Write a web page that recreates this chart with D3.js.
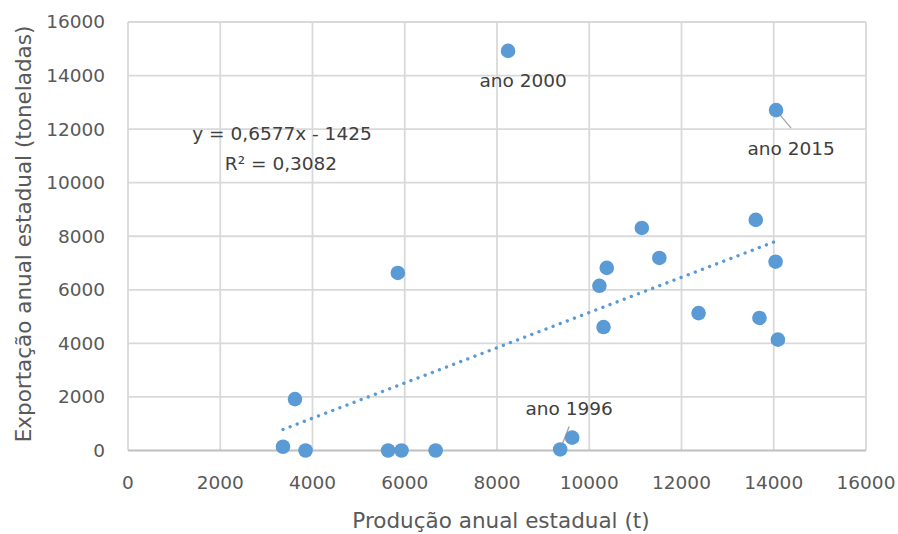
<!DOCTYPE html>
<html lang="pt">
<head>
  <meta charset="UTF-8">
  <title>Produção x Exportação</title>
  <style>
    body {
      margin: 0;
      background: #fff;
      font-family: "DejaVu Sans", sans-serif;
    }
    svg {
      display: block;
    }
    .grid line {
      stroke: #d9d9d9;
      stroke-width: 1.8;
    }
    .tick-label {
      fill: #595959;
      font-size: 18.5px;
    }
    .axis-title {
      fill: #595959;
      font-size: 21.5px;
    }
    .pt {
      fill: #5b9bd5;
    }
    .trend {
      stroke: #5b9bd5;
      stroke-width: 3.4;
      stroke-linecap: round;
      stroke-dasharray: 0.01, 7.6;
      fill: none;
    }
    .leader {
      stroke: #a6a6a6;
      stroke-width: 1.4;
    }
    .lbl {
      fill: #404040;
      font-size: 18.5px;
    }
  </style>
  <script src="https://d3js.org/d3.v7.min.js"></script>
</head>
<body>
  <div id="chart"></div>
  <script>
/* global d3 */

// produção anual estadual (t)
var producao = [3360, 3620, 3850, 5640, 5930, 6670, 5850, 8240, 9370, 9630,
  10220, 10380, 10310, 11140, 11520, 12370, 13610, 14040, 13690, 14090, 14050];
// exportação anual estadual (toneladas)
var exportacao = [140, 1920, 0, 0, 0, 0, 6630, 14920, 40, 480,
  6150, 6820, 4610, 8310, 7190, 5130, 8610, 7050, 4950, 4140, 12710];

// rótulos de alguns pontos (índice do ponto, texto)
var rotulos = [
  {i: 7, text: "ano 2000"},
  {i: 20, text: "ano 2015"},
  {i: 8, text: "ano 1996"}
];

var xTicks = [0, 2000, 4000, 6000, 8000, 10000, 12000, 14000, 16000];
var yTicks = [0, 2000, 4000, 6000, 8000, 10000, 12000, 14000, 16000];

var slope = 0.6577, intercept = -1425;
var eqText = "y = 0,6577x - 1425";
var r2Text = "R² = 0,3082";

var W = 898, H = 534;
var margin = {top: 22, right: 32, bottom: 83.5, left: 128};

var svg = d3.select("#chart").append("svg")
  .attr("width", W)
  .attr("height", H);

var x = d3.scaleLinear().domain([0, 16000]).range([margin.left, W - margin.right]);
var y = d3.scaleLinear().domain([0, 16000]).range([H - margin.bottom, margin.top]);

// grid
var grid = svg.append("g").attr("class", "grid");
grid.selectAll(".gy").data(yTicks.slice(1)).enter()
  .append("line")
  .attr("x1", x(0)).attr("x2", x(16000))
  .attr("y1", function (d) { return y(d); })
  .attr("y2", function (d) { return y(d); });
grid.selectAll(".gx").data(xTicks).enter()
  .append("line")
  .attr("x1", function (d) { return x(d); })
  .attr("x2", function (d) { return x(d); })
  .attr("y1", y(0)).attr("y2", y(16000));

// eixo x (linha base)
svg.append("line")
  .attr("x1", x(0)).attr("x2", x(16000))
  .attr("y1", y(0)).attr("y2", y(0))
  .style("stroke", "#bfbfbf")
  .style("stroke-width", 1.8);

// tick labels
svg.selectAll(".xl").data(xTicks).enter()
  .append("text")
  .attr("class", "tick-label")
  .attr("x", function (d) { return x(d); })
  .attr("y", y(0) + 38)
  .attr("text-anchor", "middle")
  .text(function (d) { return d; });

svg.selectAll(".yl").data(yTicks).enter()
  .append("text")
  .attr("class", "tick-label")
  .attr("x", x(0) - 23)
  .attr("y", function (d) { return y(d); })
  .attr("dy", "0.35em")
  .attr("text-anchor", "end")
  .text(function (d) { return d; });

// titulos
svg.append("text")
  .attr("class", "axis-title")
  .attr("x", 501)
  .attr("y", 528)
  .attr("text-anchor", "middle")
  .text("Produção anual estadual (t)");

svg.append("text")
  .attr("class", "axis-title")
  .attr("transform", "translate(31," + 234 + ") rotate(-90)")
  .attr("text-anchor", "middle")
  .text("Exportação anual estadual (toneladas)");

// linha de tendência
var xMin = d3.min(producao), xMax = d3.max(producao);
svg.append("line")
  .attr("class", "trend")
  .attr("x1", x(xMin)).attr("y1", y(slope * xMin + intercept))
  .attr("x2", x(xMax)).attr("y2", y(slope * xMax + intercept));

// leader lines
svg.append("line").attr("class", "leader")
  .attr("x1", x(producao[20])).attr("y1", y(exportacao[20]))
  .attr("x2", x(producao[20]) + 15).attr("y2", y(exportacao[20]) + 18);
svg.append("line").attr("class", "leader")
  .attr("x1", x(producao[8])).attr("y1", y(exportacao[8]))
  .attr("x2", x(producao[8]) + 9).attr("y2", y(exportacao[8]) - 23);

// pontos
svg.selectAll(".pt").data(producao).enter()
  .append("circle")
  .attr("class", "pt")
  .attr("cx", function (d) { return x(d); })
  .attr("cy", function (d, i) { return y(exportacao[i]); })
  .attr("r", 7.3);

// rótulos
var offs = {7: [15, 36], 20: [15, 45], 8: [9, -34]};
svg.selectAll(".lbl").data(rotulos).enter()
  .append("text")
  .attr("class", "lbl")
  .attr("text-anchor", "middle")
  .attr("x", function (d) { return x(producao[d.i]) + offs[d.i][0]; })
  .attr("y", function (d) { return y(exportacao[d.i]) + offs[d.i][1]; })
  .text(function (d) { return d.text; });

// equação
svg.append("text").attr("class", "lbl")
  .attr("x", 282).attr("y", 140)
  .attr("text-anchor", "middle")
  .text(eqText);
svg.append("text").attr("class", "lbl")
  .attr("x", 281).attr("y", 170)
  .attr("text-anchor", "middle")
  .text(r2Text);
  </script>
</body>
</html>
